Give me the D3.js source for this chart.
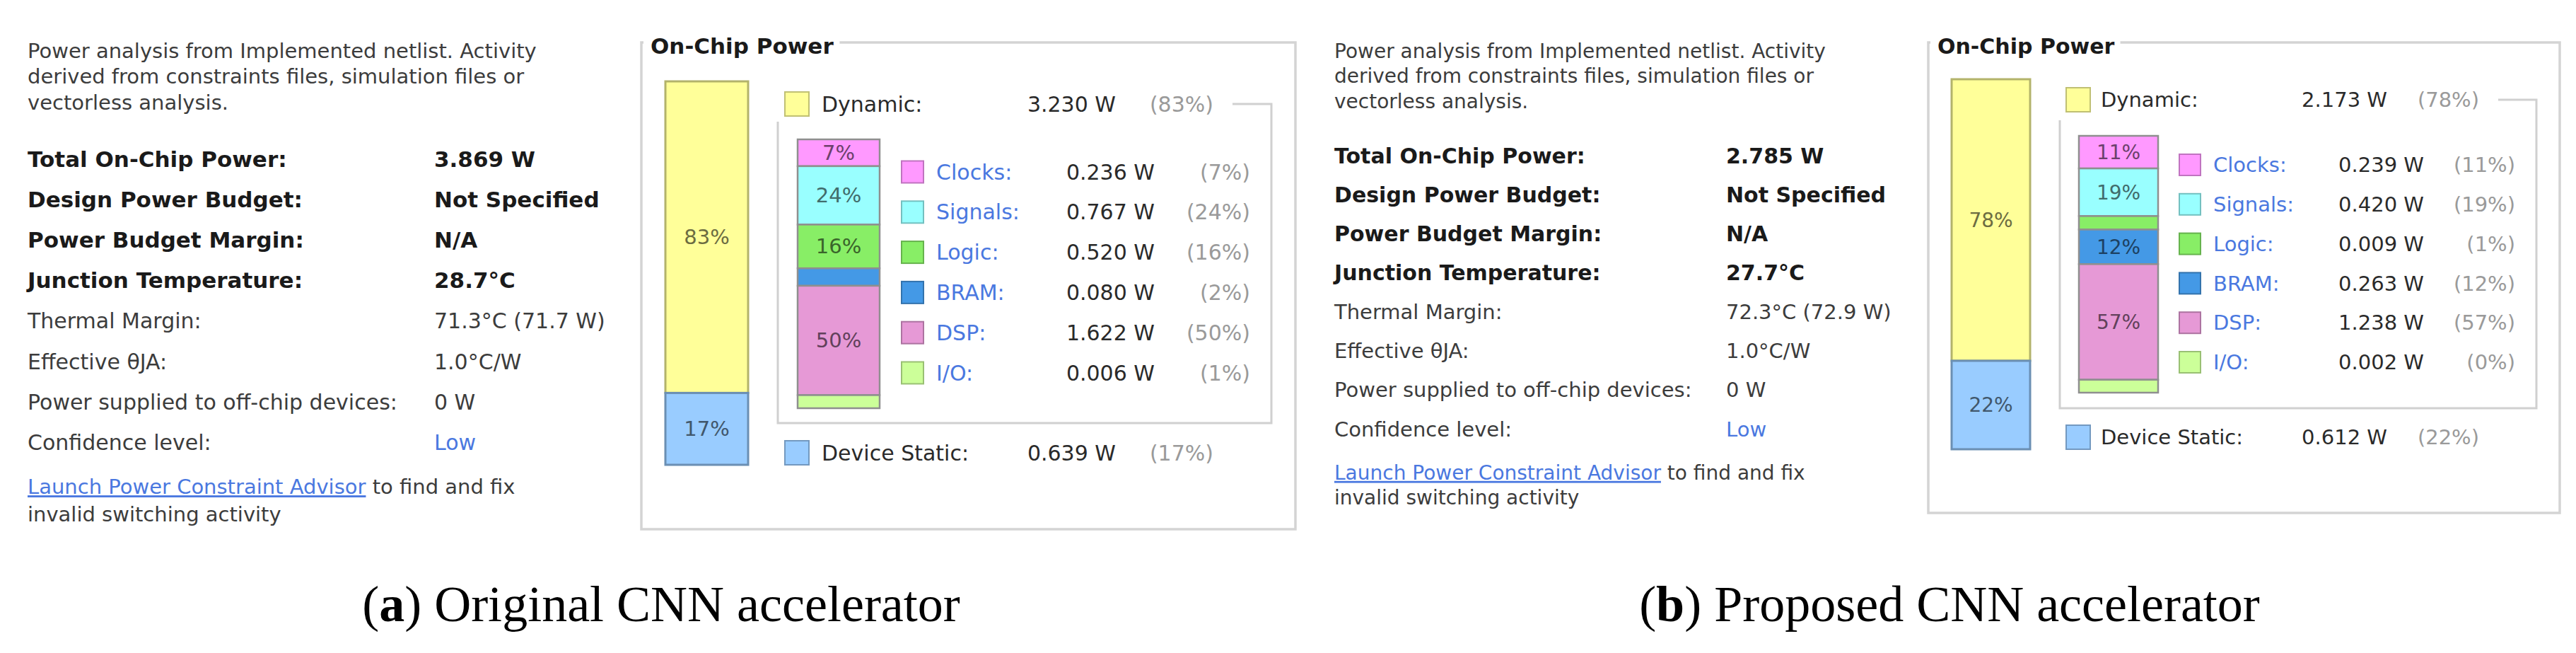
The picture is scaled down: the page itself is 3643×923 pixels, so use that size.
<!DOCTYPE html>
<html lang="en">
<head>
<meta charset="UTF-8">
<title>On-Chip Power: original vs proposed CNN accelerator</title>
<script src="https://d3js.org/d3.v7.min.js"></script>
<style>
  body { margin: 0; background: white; }
  svg { display: block; font-family: "DejaVu Sans", sans-serif; }
</style>
</head>
<body>
<div id="chart"></div>
<script>
const categories = ["Clocks", "Signals", "Logic", "BRAM", "DSP", "I/O"];
const originalWatts = [0.236, 0.767, 0.520, 0.080, 1.622, 0.006];
const originalPct = [7, 24, 16, 2, 50, 1];
const proposedWatts = [0.239, 0.420, 0.009, 0.263, 1.238, 0.002];
const proposedPct = [11, 19, 1, 12, 57, 0];

const splitNames = ["Dynamic", "Device Static"];
const originalSplitWatts = [3.230, 0.639];
const originalSplitPct = [83, 17];
const proposedSplitWatts = [2.173, 0.612];
const proposedSplitPct = [78, 22];

const summaryLabels = ["Total On-Chip Power:", "Design Power Budget:", "Power Budget Margin:", "Junction Temperature:"];
const originalSummary = ["3.869 W", "Not Specified", "N/A", "28.7°C"];
const proposedSummary = ["2.785 W", "Not Specified", "N/A", "27.7°C"];
const detailLabels = ["Thermal Margin:", "Effective θJA:", "Power supplied to off-chip devices:", "Confidence level:"];
const originalDetails = ["71.3°C (71.7 W)", "1.0°C/W", "0 W", "Low"];
const proposedDetails = ["72.3°C (72.9 W)", "1.0°C/W", "0 W", "Low"];

const descLines = ["Power analysis from Implemented netlist. Activity",
                   "derived from constraints files, simulation files or",
                   "vectorless analysis."];
const linkText = "Launch Power Constraint Advisor";
const linkRest = [" to find and fix", "invalid switching activity"];
const captionTags = ["a", "b"];
const captionTexts = ["Original CNN accelerator", "Proposed CNN accelerator"];

// colours (Vivado palette)
const catColors = ["#ff99ff", "#99ffff", "#88ee66", "#4499e6", "#e699d6", "#ccff99"];
const splitColors = ["#ffff99", "#99ccff"];
const linkColor = "#4a78e0";

const W = 3643, H = 923;
const MIN_SEG = 18;   // Vivado gives every segment a minimum height

// layout of each panel (pixels)
const layouts = [
  { tx: 39, vx: 614, fs: 30, fsb: 31, desc: [72, 108, 145], rowTop: 225, rowStep: 57.2, link: [688, 727],
    box: [907, 60, 1832, 748], bar: [941, 117, 115, 657],
    dynY: 147, sw: 1110, swS: 34, lx: 1162, vr: 1578, pr: 1716, lineEnd: 1798,
    inner: [1100, 172, 598], ibar: [1128, 116, 197, 577],
    legSw: 1275, legS: 31, legX: 1324, legVr: 1633, legPr: 1768, legY: [243, 527], statY: 640,
    capX: 935 },
  { tx: 1887, vx: 2441, fs: 29, fsb: 30, desc: [72, 107, 143], rowTop: 220, rowStep: 55.2, link: [668, 703],
    box: [2727, 60, 3620, 725], bar: [2760, 111, 112, 635],
    dynY: 141, sw: 2922, swS: 34, lx: 2971, vr: 3376, pr: 3506, lineEnd: 3587,
    inner: [2913, 170, 577], ibar: [2940, 112, 192, 555],
    legSw: 3082, legS: 30, legX: 3130, legVr: 3428, legPr: 3557, legY: [233, 512], statY: 618,
    capX: 2757 }
];
const panelData = [
  { watts: originalWatts, pct: originalPct, split: originalSplitWatts, splitPct: originalSplitPct,
    summary: originalSummary, details: originalDetails },
  { watts: proposedWatts, pct: proposedPct, split: proposedSplitWatts, splitPct: proposedSplitPct,
    summary: proposedSummary, details: proposedDetails }
];

const svg = d3.select("#chart").append("svg")
  .attr("width", W).attr("height", H);
svg.append("rect").attr("width", W).attr("height", H).attr("fill", "white");

function stack(values, top, bottom) {
  const scale = d3.scaleLinear()
    .domain([0, d3.sum(values)])
    .range([0, (bottom - top) - values.length * MIN_SEG]);
  let y = top;
  return values.map((v, i) => {
    const h = MIN_SEG + scale(v);
    const s = { i, y, h };
    y += h;
    return s;
  });
}

function fmtW(v) { return d3.format(".3f")(v) + " W"; }

function drawPanel(L, D, idx) {
  const g = svg.append("g");

  // ---- left summary text ----
  g.selectAll(".desc").data(descLines).join("text")
    .attr("x", L.tx).attr("y", (d, i) => L.desc[i]).attr("dy", "0.35em")
    .attr("font-size", L.fs - 1).attr("fill", "#3c3c3c").text(d => d);

  const rowY = i => L.rowTop + i * L.rowStep;
  g.selectAll(".sl").data(summaryLabels).join("text")
    .attr("x", L.tx).attr("y", (d, i) => rowY(i)).attr("dy", "0.35em")
    .attr("font-size", L.fsb).attr("font-weight", "bold").attr("fill", "#1a1a1a").text(d => d);
  g.selectAll(".sv").data(D.summary).join("text")
    .attr("x", L.vx).attr("y", (d, i) => rowY(i)).attr("dy", "0.35em")
    .attr("font-size", L.fsb).attr("font-weight", "bold").attr("fill", "#1a1a1a").text(d => d);
  g.selectAll(".dl").data(detailLabels).join("text")
    .attr("x", L.tx).attr("y", (d, i) => rowY(i + 4)).attr("dy", "0.35em")
    .attr("font-size", L.fs).attr("fill", "#3c3c3c").text(d => d);
  g.selectAll(".dv").data(D.details).join("text")
    .attr("x", L.vx).attr("y", (d, i) => rowY(i + 4)).attr("dy", "0.35em")
    .attr("font-size", L.fs)
    .attr("fill", (d, i) => i === 3 ? linkColor : "#3c3c3c").text(d => d);

  const l1 = g.append("text").attr("x", L.tx).attr("y", L.link[0]).attr("dy", "0.35em")
    .attr("font-size", L.fs - 1).attr("fill", "#3c3c3c");
  l1.append("tspan").attr("fill", linkColor).attr("text-decoration", "underline").text(linkText);
  l1.append("tspan").text(linkRest[0]);
  g.append("text").attr("x", L.tx).attr("y", L.link[1]).attr("dy", "0.35em")
    .attr("font-size", L.fs - 1).attr("fill", "#3c3c3c").text(linkRest[1]);

  // ---- On-Chip Power frame ----
  const [bx0, by0, bx1, by1] = L.box;
  g.append("rect").attr("x", bx0).attr("y", by0).attr("width", bx1 - bx0).attr("height", by1 - by0)
    .attr("fill", "white").attr("stroke", "#d4d4d4").attr("stroke-width", 3.5);
  const title = g.append("text").attr("x", bx0 + 13).attr("y", by0 + 5).attr("dy", "0.35em")
    .attr("font-size", L.fsb).attr("font-weight", "bold").attr("fill", "#1a1a1a").text("On-Chip Power");
  const tb = title.node().getBBox();
  g.insert("rect", "text:last-child")
    .attr("x", tb.x - 10).attr("y", by0 - 4).attr("width", tb.width + 18).attr("height", 9)
    .attr("fill", "white");

  // ---- big dynamic / static bar ----
  const [bbx, bbw, bbt, bbb] = L.bar;
  const big = stack(D.split, bbt, bbb);
  g.selectAll(".bigseg").data(big).join("rect")
    .attr("x", bbx).attr("y", d => d.y).attr("width", bbw).attr("height", d => d.h)
    .attr("fill", d => splitColors[d.i])
    .attr("stroke", d => d3.color(splitColors[d.i]).darker(1))
    .attr("stroke-width", 3);
  g.selectAll(".biglab").data(big).join("text")
    .attr("x", bbx + bbw / 2).attr("y", d => d.y + d.h / 2).attr("dy", "0.35em")
    .attr("text-anchor", "middle").attr("font-size", L.fs - 1)
    .attr("fill", d => d3.color(splitColors[d.i]).darker(2.4))
    .text(d => D.splitPct[d.i] + "%");

  // ---- Dynamic / Device Static legend rows ----
  const splitY = [L.dynY, L.statY];
  splitNames.forEach((name, i) => {
    const y = splitY[i];
    g.append("rect").attr("x", L.sw).attr("y", y - L.swS / 2).attr("width", L.swS).attr("height", L.swS)
      .attr("fill", splitColors[i]).attr("stroke", d3.color(splitColors[i]).darker(0.8)).attr("stroke-width", 2);
    g.append("text").attr("x", L.lx).attr("y", y).attr("dy", "0.35em")
      .attr("font-size", L.fs).attr("fill", "#2a2a2a").text(name + ":");
    g.append("text").attr("x", L.vr).attr("y", y).attr("dy", "0.35em").attr("text-anchor", "end")
      .attr("font-size", L.fs).attr("fill", "#2a2a2a").text(fmtW(D.split[i]));
    g.append("text").attr("x", L.pr).attr("y", y).attr("dy", "0.35em").attr("text-anchor", "end")
      .attr("font-size", L.fs).attr("fill", "#9a9a9a").text("(" + D.splitPct[i] + "%)");
  });

  // bracket framing the dynamic breakdown
  const [ix0, iy0, iy1] = L.inner;
  g.append("path")
    .attr("d", `M${L.pr + 27},${L.dynY} H${L.lineEnd} V${iy1} H${ix0} V${iy0}`)
    .attr("fill", "none").attr("stroke", "#d0d0d0").attr("stroke-width", 3);

  // ---- dynamic breakdown bar ----
  const [ibx, ibw, ibt, ibb] = L.ibar;
  const segs = stack(D.watts, ibt, ibb);
  g.selectAll(".seg").data(segs).join("rect")
    .attr("x", ibx).attr("y", d => d.y).attr("width", ibw).attr("height", d => d.h)
    .attr("fill", d => catColors[d.i])
    .attr("stroke", "#8f8f8f").attr("stroke-width", 2.5);
  g.selectAll(".seglab").data(segs.filter(d => D.pct[d.i] >= 5)).join("text")
    .attr("x", ibx + ibw / 2).attr("y", d => d.y + d.h / 2).attr("dy", "0.35em")
    .attr("text-anchor", "middle").attr("font-size", L.fs - 1)
    .attr("fill", d => d3.color(catColors[d.i]).darker(2.4))
    .text(d => D.pct[d.i] + "%");

  // ---- category legend ----
  const ly = d3.scalePoint().domain(categories).range(L.legY);
  const rows = g.selectAll(".leg").data(categories).join("g")
    .attr("transform", d => `translate(0,${ly(d)})`);
  rows.append("rect").attr("x", L.legSw).attr("y", -L.legS / 2).attr("width", L.legS).attr("height", L.legS)
    .attr("fill", (d, i) => catColors[i])
    .attr("stroke", (d, i) => d3.color(catColors[i]).darker(0.8)).attr("stroke-width", 2);
  rows.append("text").attr("x", L.legX).attr("dy", "0.35em")
    .attr("font-size", L.fs).attr("fill", linkColor).text(d => d + ":");
  rows.append("text").attr("x", L.legVr).attr("dy", "0.35em").attr("text-anchor", "end")
    .attr("font-size", L.fs).attr("fill", "#2a2a2a").text((d, i) => fmtW(D.watts[i]));
  rows.append("text").attr("x", L.legPr).attr("dy", "0.35em").attr("text-anchor", "end")
    .attr("font-size", L.fs).attr("fill", "#9a9a9a").text((d, i) => "(" + D.pct[i] + "%)");

  // ---- caption ----
  const cap = g.append("text").attr("x", L.capX).attr("y", 878).attr("text-anchor", "middle")
    .attr("font-family", "'Liberation Serif', serif").attr("font-size", 72).attr("fill", "#000");
  cap.append("tspan").text("(");
  cap.append("tspan").attr("font-weight", "bold").text(captionTags[idx]);
  cap.append("tspan").text(") " + captionTexts[idx]);
}

layouts.forEach((L, i) => drawPanel(L, panelData[i], i));
</script>
</body>
</html>
